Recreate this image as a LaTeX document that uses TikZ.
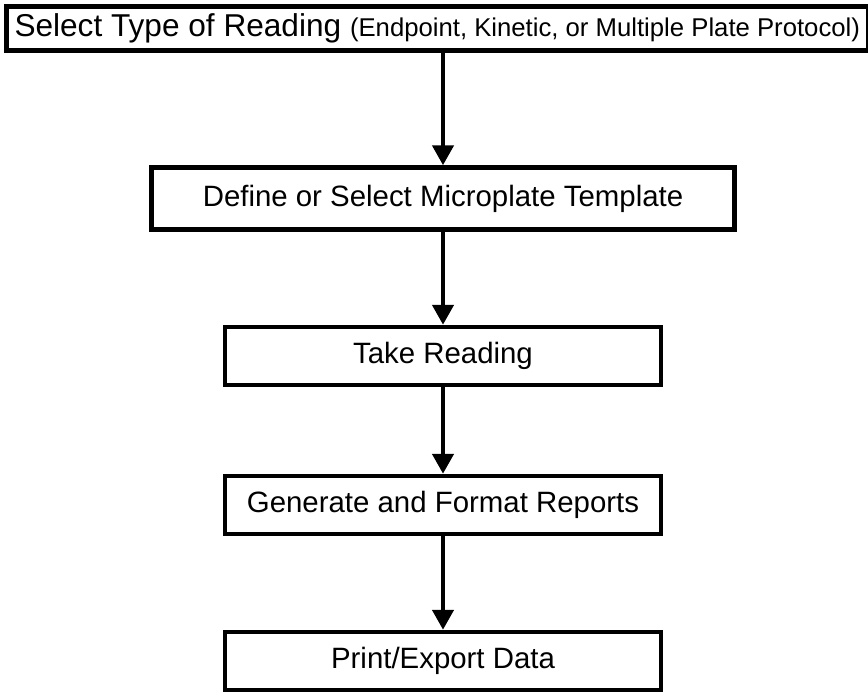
\documentclass[tikz,border=0pt]{standalone}
\usepackage{fontspec}
\setmainfont{Liberation Sans}
\usetikzlibrary{arrows.meta}

\tikzset{
  stepbox/.style={draw,line width=4.5pt,minimum width=436pt,minimum height=58pt,
    inner sep=0pt,font=\fontsize{29.4}{34}\selectfont},
  flow/.style={line width=4.5pt,-{Triangle[length=20pt,width=21pt]}}
}

\begin{document}
\begin{tikzpicture}[x=1pt,y=-1pt]
    \useasboundingbox (0,0) rectangle (868,694);
    % top box runs across the whole page
    \node[stepbox,minimum width=862pt,minimum height=44pt,anchor=north west,
      font=\fontsize{31.6}{36}\selectfont] (type) at (4,4)
      {Select Type of Reading {\fontsize{25.7}{30}\selectfont (Endpoint, Kinetic, or Multiple Plate Protocol)}};
    \node[stepbox,minimum width=583pt,minimum height=62pt] (template) at (443,198.5)
      {Define or Select Microplate Template};
    \node[stepbox] (reading) at (443,356) {Take Reading};
    \node[stepbox] (reports) at (443,505) {Generate and Format Reports};
    \node[stepbox] (export) at (443,661) {Print/Export Data};
    % arrows between the steps
    \draw[flow] (type.south -| template.north) -- (template.north);
    \draw[flow] (template) -- (reading);
    \draw[flow] (reading) -- (reports);
    \draw[flow] (reports) -- (export);
\end{tikzpicture}
\end{document}
